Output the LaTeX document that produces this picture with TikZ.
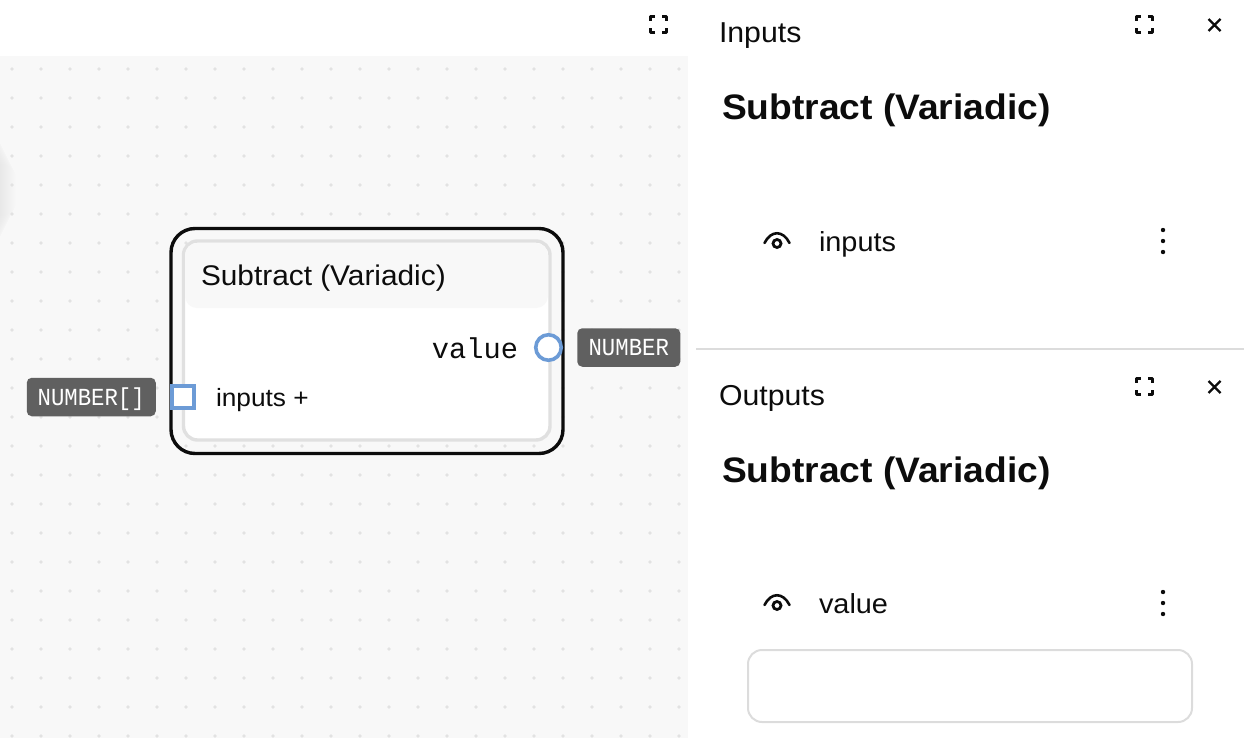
\documentclass[tikz,border=0pt]{standalone}
\usepackage{fontspec}
\setmainfont[FakeStretch=1.05]{Liberation Sans}
\setmonofont{Liberation Mono}
\newfontfamily\tagfont[FakeStretch=.91]{Liberation Mono}
\usetikzlibrary{positioning}
\definecolor{canvasbg}{HTML}{F8F8F8}
\definecolor{griddot}{HTML}{E2E2E2}
\definecolor{ringgray}{HTML}{E0E0E0}
\definecolor{portblue}{HTML}{6C9BD6}
\definecolor{taggray}{HTML}{606060}
\definecolor{rulegray}{HTML}{DCDCDC}
\definecolor{inkblack}{HTML}{0C0C0C}
\tikzset{
	focusicon/.pic = {
		\draw[line width = 2.7pt, inkblack, line join = round]
			(-8.3,-3.8) -- (-8.3,-8.3) -- (-3.8,-8.3)
			(3.8,-8.3) -- (8.3,-8.3) -- (8.3,-3.8)
			(8.3,3.8) -- (8.3,8.3) -- (3.8,8.3)
			(-3.8,8.3) -- (-8.3,8.3) -- (-8.3,3.8);
	},
	closeicon/.pic = {
		\draw[line width = 2.4pt, inkblack] (-6,-6) -- (6,6) (-6,6) -- (6,-6);
	},
	eyeicon/.pic = {
		\draw[line width = 2.6pt, inkblack, line cap = round]
			(-12.5,2) .. controls (-6,-11) and (6,-11) .. (12.5,2);
		\draw[line width = 2.8pt, inkblack] (0,2.5) circle (4);
	},
	kebabicon/.pic = {
		\foreach \dy in {-11,0,11} {
			\fill[inkblack] (0,\dy) circle (2.2);
		}
	}
}

\begin{document}
\begin{tikzpicture}[
x = 1pt,
y = -1pt,
node distance = 16pt,
every node/.style = {
	inner sep = 0pt,
	outer sep = 0pt,
	text = inkblack
},
outerbox/.style = {
	draw = inkblack,
	line width = 3.4pt,
	rounded corners = 24pt,
	minimum width = 392pt,
	minimum height = 225pt
},
ringbox/.style = {
	draw = ringgray,
	fill = white,
	line width = 3.4pt,
	rounded corners = 14pt,
	minimum width = 366.5pt,
	minimum height = 199pt
},
headbox/.style = {
	fill = canvasbg,
	rounded corners = 12pt,
	minimum width = 363pt,
	minimum height = 65pt
},
porttag/.style = {
	fill = taggray,
	rounded corners = 5pt,
	text = white,
	font = \tagfont\fontsize{24.5}{26}\selectfont,
	text height = 16pt,
	text depth = 0pt,
	minimum height = 38.5pt
},
panelhead/.style = {
	anchor = base west,
	font = \fontsize{28.8}{30}\selectfont
},
paneltitle/.style = {
	anchor = base west,
	font = \bfseries\fontsize{35.4}{40}\selectfont
},
rowlabel/.style = {
	anchor = base west,
	font = \fontsize{27.5}{30}\selectfont
}
]
\useasboundingbox (0,0) rectangle (1244,738);

% canvas
\fill[canvasbg] (0,56) rectangle (688,738);
\foreach \w in {1,...,16} {
	\fill[black, opacity = .003, rounded corners = 14pt] (-30,132+2*\w) rectangle (\w,248-2*\w);
}
\foreach \i in {0,...,23} {
	\foreach \j in {0,...,23} {
		\fill[griddot] (12+29*\i,69+29*\j) circle (1.8);
	}
}

% node
\node (node_outer) [outerbox] at (367,341) {};
\node (node_ring) [ringbox] at (366.75,340.5) {};
\node (node_head) [headbox] at (366.5,275.5) {};
\node (node_title) [anchor = base west, font = \fontsize{28.4}{30}\selectfont] at (201,285) {Subtract (Variadic)};

\node (port_in) [draw = portblue, fill = white, line width = 3.6pt, minimum size = 22.5pt] at (183,397) {};
\node (port_out) [draw = portblue, fill = white, line width = 3.6pt, circle, minimum size = 25.5pt] at (548.5,347.5) {};
\node (label_in) [anchor = base west, font = \fontsize{25}{28}\selectfont] at (216,406) {inputs +};
\node (label_out) [anchor = base east, font = \ttfamily\fontsize{28.7}{30}\selectfont] at (518,358) {value};

\node (tag_in) [porttag, minimum width = 129pt, left = of port_in] {NUMBER[]};
\node (tag_out) [porttag, minimum width = 103pt, right = of port_out] {NUMBER};

% inputs panel
\node (in_head) [panelhead] at (719,43) {Inputs};
\node (in_title) [paneltitle] at (722,120) {Subtract (Variadic)};
\node (in_row) [rowlabel] at (819,251) {inputs};
\pic at (658.5,24.5) {focusicon};
\pic at (1144.5,24.5) {focusicon};
\pic at (1214.5,25) {closeicon};
\pic at (777,241) {eyeicon};
\pic at (1163,241) {kebabicon};

% outputs panel
\draw[rulegray, line width = 1.6pt] (696,349) -- (1244,349);
\node (out_head) [panelhead] at (719,405) {Outputs};
\node (out_title) [paneltitle] at (722,482) {Subtract (Variadic)};
\node (out_row) [rowlabel] at (819,613) {value};
\pic at (1144.5,386.5) {focusicon};
\pic at (1214.5,387) {closeicon};
\pic at (777,603) {eyeicon};
\pic at (1163,603) {kebabicon};
\node (value_box) [draw = rulegray, line width = 2pt, rounded corners = 14pt, minimum width = 444pt, minimum height = 72pt] at (970,686) {};

\end{tikzpicture}
\end{document}
